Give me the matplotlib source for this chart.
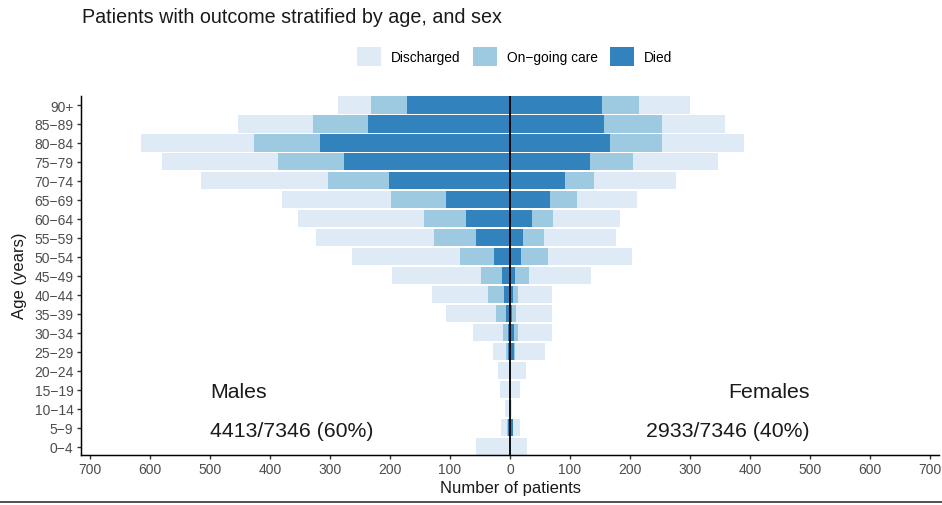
import numpy as np
import matplotlib.pyplot as plt
from matplotlib.patches import Patch
from matplotlib.lines import Line2D

# age groups, bottom to top
ages = ["0\u22124", "5\u22129", "10\u221214", "15\u221219", "20\u221224", "25\u221229",
        "30\u221234", "35\u221239", "40\u221244", "45\u221249", "50\u221254", "55\u221259",
        "60\u221264", "65\u221269", "70\u221274", "75\u221279", "80\u221284", "85\u221289", "90+"]

# males (drawn on the left)
male_died = [0, 4, 0, 0, 0, 3, 3, 6, 10, 14, 26, 57, 73, 106, 201, 276, 317, 236, 172]
male_ongoing = [2, 1, 0, 1, 1, 3, 8, 18, 27, 34, 57, 70, 70, 92, 102, 110, 110, 92, 59]
male_discharged = [54, 10, 9, 16, 19, 22, 50, 82, 93, 148, 181, 197, 210, 182, 212, 194, 188, 126, 55]

# females (drawn on the right)
female_died = [0, 5, 0, 0, 0, 7, 6, 3, 5, 8, 19, 21, 36, 67, 92, 133, 167, 156, 154]
female_ongoing = [0, 0, 0, 0, 0, 1, 8, 7, 9, 24, 44, 35, 36, 44, 48, 72, 86, 97, 61]
female_discharged = [28, 12, 4, 17, 27, 50, 56, 60, 56, 103, 141, 120, 111, 101, 136, 141, 137, 105, 85]

outcomes = ["Discharged", "On\u2212going care", "Died"]
colors = ["#DEEBF7", "#9ECAE1", "#3182BD"]

male_text = ["Males", "4413/7346 (60%)"]
female_text = ["Females", "2933/7346 (40%)"]
xticks = np.arange(-700, 701, 100)

plt.rcParams['font.family'] = ['Liberation Sans', 'DejaVu Sans']

fig = plt.figure(figsize=(9.42, 5.06), dpi=100)
ax = fig.add_axes([81 / 942, 1 - 456 / 506, (939 - 81) / 942, (456 - 96.7) / 506])

y = np.arange(len(ages))
md, mo, mc = np.array(male_died), np.array(male_ongoing), np.array(male_discharged)
fd, fo, fc = np.array(female_died), np.array(female_ongoing), np.array(female_discharged)

# stacked bars: died nearest the centre, then on-going, then discharged
ax.barh(y, -md, height=0.9, color=colors[2], lw=0)
ax.barh(y, -mo, left=-md, height=0.9, color=colors[1], lw=0)
ax.barh(y, -mc, left=-(md + mo), height=0.9, color=colors[0], lw=0)
ax.barh(y, fd, height=0.9, color=colors[2], lw=0)
ax.barh(y, fo, left=fd, height=0.9, color=colors[1], lw=0)
ax.barh(y, fc, left=fd + fo, height=0.9, color=colors[0], lw=0)

ax.axvline(0, color="black", lw=1.3)

ax.set_xlim(-715, 715)
ax.set_ylim(-0.44, 18.49)
ax.set_xticks(xticks)
ax.set_xticklabels([str(abs(v)) for v in xticks])
ax.set_yticks(y)
ax.set_yticklabels(ages)

for s in ["top", "right"]:
    ax.spines[s].set_visible(False)
for s in ["left", "bottom"]:
    ax.spines[s].set_linewidth(1.07)
ax.tick_params(axis="both", length=2.75, width=1.0, color="#333333",
               labelcolor="#4D4D4D", labelsize=10)
ax.tick_params(axis="x", pad=2)
ax.tick_params(axis="y", pad=2.7)

ax.set_xlabel("Number of patients", fontsize=12, color="#1a1a1a", va="baseline")
ax.xaxis.set_label_coords(0.5, -0.1038)
fig.text(20 / 942, 1 - 276 / 506, "Age (years)", rotation=90, ha="center", va="center",
         fontsize=12, color="#1a1a1a")

# sex annotations
ax.text(-500, 3 - 0.39, male_text[0], ha="left", va="baseline", fontsize=15.3, color="#1a1a1a")
ax.text(-500, 1 - 0.42, male_text[1], ha="left", va="baseline", fontsize=15.3, color="#1a1a1a")
ax.text(500, 3 - 0.39, female_text[0], ha="right", va="baseline", fontsize=15.3, color="#1a1a1a")
ax.text(500, 1 - 0.42, female_text[1], ha="right", va="baseline", fontsize=15.3, color="#1a1a1a")

fig.text(82 / 942, 1 - 22.7 / 506, "Patients with outcome stratified by age, and sex",
         ha="left", va="baseline", fontsize=14.2, color="#1a1a1a")

handles = [Patch(facecolor=c, edgecolor="none") for c in colors]
fig.legend(handles, outcomes, loc="center", bbox_to_anchor=(514.5 / 942, 1 - 57.5 / 506),
           ncol=3, frameon=False, fontsize=9.9, handlelength=1.75, handleheight=1.82,
           handletextpad=0.73, columnspacing=0.87, borderpad=0, borderaxespad=0)

# border line at the bottom of the screenshot
fig.add_artist(Line2D([0, 1], [1 - 503.3 / 506] * 2, color="#333333", lw=1.2,
                      transform=fig.transFigure))

plt.savefig("out.png", dpi=100)
plt.close()
